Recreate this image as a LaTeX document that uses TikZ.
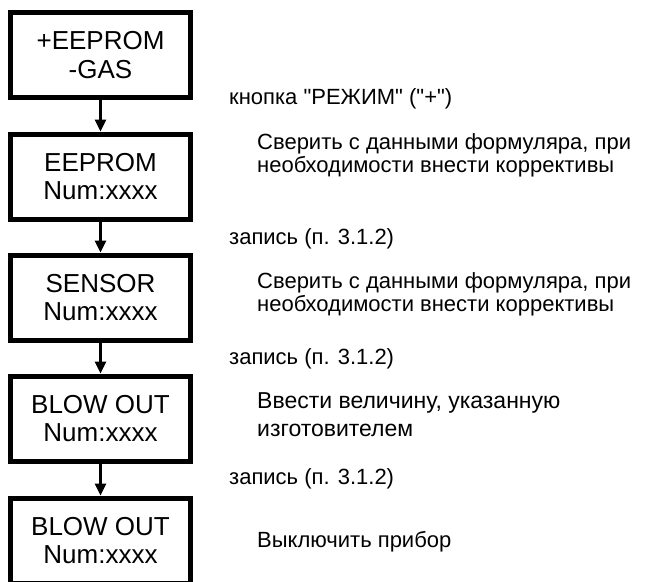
\documentclass[tikz,border=0pt]{standalone}
\usepackage{fontspec}
\setmainfont{Liberation Sans}
\usetikzlibrary{arrows.meta}
\tikzset{
  statebox/.style={draw, line width=5pt, minimum width=180pt, minimum height=85pt,
    inner sep=0pt, align=center, font=\fontsize{26}{28.5}\selectfont},
  flowarrow/.style={line width=2.5pt, -{Triangle[length=12pt,width=11pt]}},
  actlabel/.style={anchor=base west, inner sep=0pt, font=\fontsize{22}{23}\selectfont},
  desclabel/.style={anchor=base west, inner sep=0pt, align=left, font=\fontsize{22}{23}\selectfont},
  desclabelbig/.style={anchor=base west, inner sep=0pt, align=left, font=\fontsize{23}{28}\selectfont}
}
\begin{document}
\begin{tikzpicture}[x=1pt,y=-1pt]
\useasboundingbox (0,0) rectangle (668,581);
\node[statebox] (b1) at (100.5,55) {+EEPROM\\-GAS};
\node[statebox] (b2) at (100.5,176.5) {EEPROM\\Num:xxxx};
\node[statebox] (b3) at (100.5,297.5) {SENSOR\\Num:xxxx};
\node[statebox] (b4) at (100.5,418.5) {BLOW OUT\\Num:xxxx};
\node[statebox] (b5) at (100.5,540.5) {BLOW OUT\\Num:xxxx};
\draw[flowarrow] (b1.south) -- (b2.north);
\draw[flowarrow] (b2.south) -- (b3.north);
\draw[flowarrow] (b3.south) -- (b4.north);
\draw[flowarrow] (b4.south) -- (b5.north);
\node[actlabel] (a1) at (229,104) {кнопка \textquotedbl РЕЖИМ\textquotedbl{} (\textquotedbl +\textquotedbl )};
\node[desclabel] (d1) at (257,172) {Сверить с данными формуляра, при\\необходимости внести коррективы};
\node[actlabel] (a2) at (229,244) {запись (п. 3.1.2)};
\node[desclabel] (d2) at (257,311) {Сверить с данными формуляра, при\\необходимости внести коррективы};
\node[actlabel] (a3) at (229,364) {запись (п. 3.1.2)};
\node[desclabelbig] (d3) at (257,436) {Ввести величину, указанную\\изготовителем};
\node[actlabel] (a4) at (229,484) {запись (п. 3.1.2)};
\node[desclabel] (d4) at (257,547) {Выключить прибор};
\end{tikzpicture}
\end{document}
